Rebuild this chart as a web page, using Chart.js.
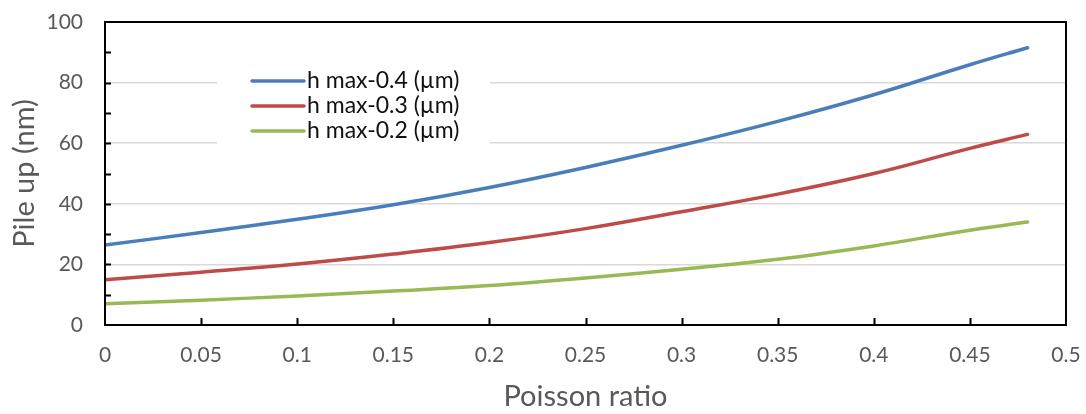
<!DOCTYPE html>
<html lang="en">
<head>
  <meta charset="UTF-8">
  <title>Pile up vs Poisson ratio</title>
  <style>
    html, body { margin: 0; padding: 0; background: #fff; }
    #chartContainer { width: 1086px; height: 414px; }
  </style>
  <script src="https://cdn.jsdelivr.net/npm/chart.js"></script>
</head>
<body>
  <div id="chartContainer">
    <canvas id="chartCanvas"></canvas>
  </div>

  <script>
    // valori
    const poisson = [0, 0.05, 0.1, 0.15, 0.2, 0.25, 0.3, 0.35, 0.4, 0.45, 0.48];
    const hmax04 = [26.4, 30.5, 34.9, 39.7, 45.4, 52.0, 59.3, 67.2, 76.0, 85.9, 91.5];
    const hmax03 = [14.9, 17.4, 20.1, 23.4, 27.2, 31.8, 37.4, 43.2, 50.0, 58.3, 62.9];
    const hmax02 = [7.0, 8.2, 9.6, 11.2, 13.0, 15.5, 18.4, 21.7, 26.1, 31.3, 34.0];
    const seriesLabels = ["h max-0.4 (µm)", "h max-0.3 (µm)", "h max-0.2 (µm)"];
    const seriesColors = ["#4a7ebb", "#be4b48", "#98b954"];
    const xTicks = [0, 0.05, 0.1, 0.15, 0.2, 0.25, 0.3, 0.35, 0.4, 0.45, 0.5];
    const yTicks = [0, 20, 40, 60, 80, 100];

    const FONT = "Lato, 'Open Sans', sans-serif";

    function toPoints(values) {
      return values.map((v, i) => ({ x: poisson[i], y: v }));
    }

    // cornice, tacche interne e legenda dentro l'area del grafico
    const framePlugin = {
      id: "frame",
      afterDraw(chart) {
        const ctx = chart.ctx;
        const a = chart.chartArea;
        const xs = chart.scales.x;
        const ys = chart.scales.y;
        ctx.save();

        // legenda con fondo bianco
        ctx.fillStyle = "#fff";
        ctx.fillRect(217, 62, 273, 86);
        ctx.font = "23px " + FONT;
        ctx.textBaseline = "middle";
        ctx.textAlign = "left";
        chart.data.datasets.forEach((ds, i) => {
          const y = 81 + i * 25;
          ctx.strokeStyle = ds.borderColor;
          ctx.lineWidth = 3.5;
          ctx.lineCap = "round";
          ctx.beginPath();
          ctx.moveTo(252, y);
          ctx.lineTo(304, y);
          ctx.stroke();
          ctx.fillStyle = "#111";
          ctx.fillText(ds.label, 307, y);
        });

        // tacche
        ctx.strokeStyle = "#000";
        ctx.lineWidth = 2;
        ctx.lineCap = "butt";
        ctx.beginPath();
        for (let v = 10; v < 100; v += 10) {
          const py = Math.round(ys.getPixelForValue(v)) + 0.5;
          ctx.moveTo(a.left, py);
          ctx.lineTo(a.left + 6, py);
        }
        xTicks.slice(1, -1).forEach(v => {
          const px = Math.round(xs.getPixelForValue(v)) + 0.5;
          ctx.moveTo(px, a.bottom);
          ctx.lineTo(px, a.bottom - 7);
        });
        ctx.stroke();

        // cornice
        ctx.lineWidth = 2;
        ctx.strokeRect(a.left, a.top, a.right - a.left, a.bottom - a.top);
        ctx.restore();
      }
    };

    new Chart(document.getElementById("chartCanvas"), {
      type: "line",
      data: {
        datasets: [hmax04, hmax03, hmax02].map((vals, i) => ({
          label: seriesLabels[i],
          data: toPoints(vals),
          borderColor: seriesColors[i],
          backgroundColor: seriesColors[i],
          borderWidth: 3.5,
          borderCapStyle: "round",
          pointRadius: 0,
          tension: 0.4,
          fill: false
        }))
      },
      options: {
        responsive: true,
        maintainAspectRatio: false,
        animation: false,
        layout: { padding: { top: 22, right: 20, left: 0, bottom: 0 } },
        plugins: {
          legend: { display: false },
          tooltip: { enabled: false }
        },
        scales: {
          x: {
            type: "linear",
            min: 0,
            max: 0.5,
            afterBuildTicks: s => { s.ticks = xTicks.map(v => ({ value: v })); },
            afterFit: s => { s.height = 89; s.paddingLeft = 0; s.paddingRight = 0; },
            grid: { display: false, drawTicks: false },
            border: { display: false },
            ticks: {
              padding: 18,
              maxRotation: 0,
              autoSkip: false,
              color: "#595959",
              font: { family: FONT, size: 21 },
              callback: v => String(+v.toFixed(2))
            },
            title: {
              display: true,
              text: "Poisson ratio",
              color: "#595959",
              font: { family: FONT, size: 29 },
              padding: { top: 0, bottom: 0 }
            }
          },
          y: {
            min: 0,
            max: 100,
            afterBuildTicks: s => { s.ticks = yTicks.map(v => ({ value: v })); },
            afterFit: s => { s.width = 105; s.paddingTop = 0; s.paddingBottom = 0; },
            grid: {
              drawTicks: false,
              color: ctx => (ctx.tick && (ctx.tick.value === 0 || ctx.tick.value === 100)) ? "rgba(0,0,0,0)" : "#d9d9d9",
              lineWidth: 1.5
            },
            border: { display: false },
            ticks: {
              padding: 22,
              color: "#595959",
              font: { family: FONT, size: 21 }
            },
            title: {
              display: true,
              text: "Pile up (nm)",
              color: "#595959",
              font: { family: FONT, size: 29 },
              padding: { top: 7, bottom: 0 }
            }
          }
        }
      },
      plugins: [framePlugin]
    });
  </script>
</body>
</html>
